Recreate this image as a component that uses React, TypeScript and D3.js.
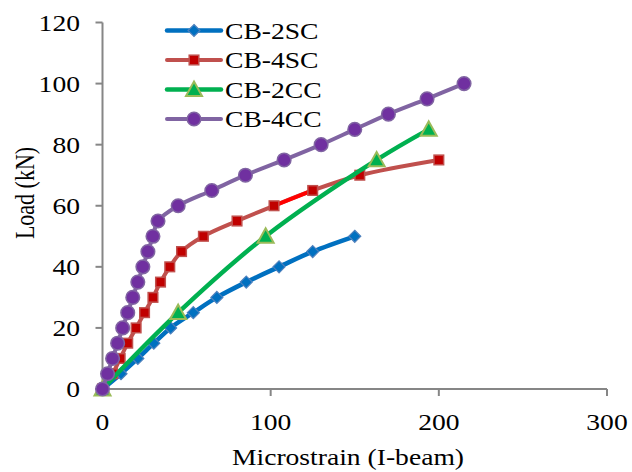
import React from "react";
import * as d3 from "d3";

const loadsBlue = [0, 5, 10, 15, 20, 25, 30, 35, 40, 45, 50];
const strainBlue = [0, 11, 21, 30.5, 40.5, 54, 68, 85.5, 105, 125, 150];

const loadsRed = [0, 5, 10, 15, 20, 25, 30, 35, 40, 45, 50, 55, 60, 65, 70, 75];
const strainRed = [0, 6, 10.5, 15, 20, 25, 30, 34.5, 40, 47, 60, 80, 102, 125, 153, 200];

const loadsGreen = [0, 25, 50, 75, 85];
const strainGreen = [0, 45, 97, 163, 194];

const loadsPurple = [0, 5, 10, 15, 20, 25, 30, 35, 40, 45, 50, 55, 60, 65, 70, 75, 80, 85, 90, 95, 100];
const strainPurple = [0, 3, 6, 9, 12, 15, 18, 21, 24, 27, 30, 33, 45, 65, 85, 108, 130, 150, 170, 193, 215];

const seriesNames = ["CB-2SC", "CB-4SC", "CB-2CC", "CB-4CC"];
const xTicks = [0, 100, 200, 300];
const yTicks = [0, 20, 40, 60, 80, 100, 120];

const FONT = '"Liberation Serif", "Times New Roman", serif';
const SX = 1.2;

type Pt = [number, number];

export default function App() {
  const x = d3.scaleLinear().domain([0, 300]).range([102.5, 607]);
  const y = d3.scaleLinear().domain([0, 120]).range([389, 22.5]);
  const line = d3
    .line<Pt>()
    .x((d) => x(d[0]))
    .y((d) => y(d[1]))
    .curve(d3.curveCatmullRom.alpha(0.5));

  const zip = (xs: number[], ys: number[]): Pt[] => xs.map((v, i) => [v, ys[i]]);

  const series = [
    { name: seriesNames[0], pts: zip(strainBlue, loadsBlue), line: "#0070C0", w: 4.5, marker: "diamond", fill: "#0070C0", stroke: "#4F81BD" },
    { name: seriesNames[1], pts: zip(strainRed, loadsRed), line: "#C0504D", w: 4, marker: "square", fill: "#C00000", stroke: "#C0504D" },
    { name: seriesNames[2], pts: zip(strainGreen, loadsGreen), line: "#00B050", w: 4.5, marker: "triangle", fill: "#00B050", stroke: "#9BBB59" },
    { name: seriesNames[3], pts: zip(strainPurple, loadsPurple), line: "#8064A2", w: 4, marker: "circle", fill: "#7030A0", stroke: "#8064A2" },
  ];

  const drawMarker = (kind: string, cx: number, cy: number, fill: string, stroke: string, key: string | number) => {
    if (kind === "diamond") {
      const r = 6;
      return <path key={key} d={`M${cx},${cy - r}L${cx + r},${cy}L${cx},${cy + r}L${cx - r},${cy}Z`} fill={fill} stroke={stroke} strokeWidth={1.2} />;
    }
    if (kind === "square") {
      const r = 4.8;
      return <rect key={key} x={cx - r} y={cy - r} width={2 * r} height={2 * r} fill={fill} stroke={stroke} strokeWidth={1.5} />;
    }
    if (kind === "triangle") {
      const r = 8;
      return <path key={key} d={`M${cx},${cy - r}L${cx + r},${cy + r * 0.8}L${cx - r},${cy + r * 0.8}Z`} fill={fill} stroke={stroke} strokeWidth={2} />;
    }
    return <circle key={key} cx={cx} cy={cy} r={6.8} fill={fill} stroke={stroke} strokeWidth={1.5} />;
  };

  const txt = (s: string, tx: number, ty: number, size: number, anchor: string, key: string | number, rotate = 0) => (
    <g key={key} transform={`translate(${tx},${ty}) scale(${SX},1)${rotate ? ` rotate(${rotate})` : ""}`}>
      <text x={0} y={0} fontSize={size} fontFamily={FONT} textAnchor={anchor} fill="#000">
        {s}
      </text>
    </g>
  );

  const axisColor = "#868686";
  const legendRows = [30.5, 60, 89.5, 119];

  // bright segment of CB-4SC (60 -> 65 kN)
  const redBright: Pt[] = [
    [strainRed[12], loadsRed[12]],
    [strainRed[13], loadsRed[13]],
  ];

  return (
    <svg width={632} height={472} style={{ position: "absolute", left: 0, top: 0, background: "#fff" }}>
      <rect width={632} height={472} fill="#fff" />
      {/* axes */}
      <line x1={x(0)} x2={x(0)} y1={y(120)} y2={y(0)} stroke={axisColor} strokeWidth={2} />
      <line x1={x(0)} x2={x(300)} y1={y(0)} y2={y(0)} stroke={axisColor} strokeWidth={2} />
      {yTicks.map((t) => (
        <line key={"yt" + t} x1={x(0) - 7} x2={x(0)} y1={y(t)} y2={y(t)} stroke={axisColor} strokeWidth={2} />
      ))}
      {xTicks.map((t) => (
        <line key={"xt" + t} x1={x(t)} x2={x(t)} y1={y(0)} y2={y(0) + 7} stroke={axisColor} strokeWidth={2} />
      ))}
      {yTicks.map((t) => txt(String(t), 80, y(t) + 8, 23, "end", "yl" + t))}
      {xTicks.map((t) => txt(String(t), x(t), 430, 23, "middle", "xl" + t))}
      {txt("Microstrain (I-beam)", 348, 465, 23, "middle", "xtitle")}
      {txt("Load (kN)", 34, 193, 22, "middle", "ytitle", -90)}

      {/* series */}
      {series.map((s, si) => (
        <g key={s.name}>
          <path d={line(s.pts) || ""} fill="none" stroke={s.line} strokeWidth={s.w} strokeLinejoin="round" strokeLinecap="round" />
          {si === 1 && (
            <path d={d3.line<Pt>().x((d) => x(d[0])).y((d) => y(d[1]))(redBright) || ""} fill="none" stroke="#FF0000" strokeWidth={4} />
          )}
          {s.pts.map((p, i) => drawMarker(s.marker, x(p[0]), y(p[1]), s.fill, s.stroke, i))}
        </g>
      ))}

      {/* legend */}
      {series.map((s, i) => (
        <g key={"lg" + i}>
          <line x1={167} x2={221} y1={legendRows[i]} y2={legendRows[i]} stroke={s.line} strokeWidth={s.w} strokeLinecap="round" />
          {drawMarker(s.marker, 194, legendRows[i], s.fill, s.stroke, "m" + i)}
          {txt(s.name, 225, legendRows[i] + 8, 23, "start", "lt" + i)}
        </g>
      ))}
    </svg>
  );
}
